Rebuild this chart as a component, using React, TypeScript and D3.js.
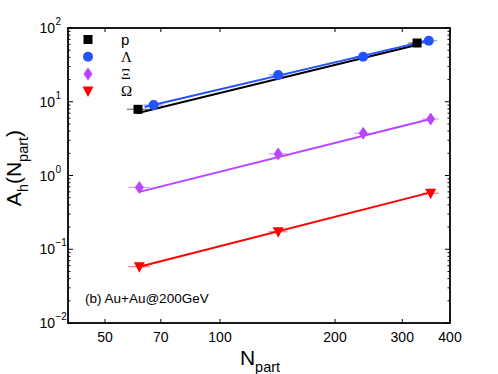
import React from "react";
import * as d3 from "d3";

const xTicks = [50, 70, 100, 200, 300, 400];
const yExps = [-2, -1, 0, 1, 2];

const pN = [61, 328];
const pV = [7.9, 62.6];
const pErr = [4, 18];

const lamN = [67, 142, 237, 352];
const lamV = [9.0, 23.1, 40.8, 67.3];
const lamErr = [4, 8, 12, 18];

const xiN = [61.5, 142, 237, 356];
const xiV = [0.69, 1.96, 3.73, 5.84];
const xiErr = [4, 8, 12, 18];

const omN = [61.5, 142, 356];
const omV = [0.058, 0.173, 0.573];
const omErr = [4, 8, 18];

const fitPN = [60.6, 331];
const fitPV = [7.0, 59.7];
const fitLamN = [63.5, 356];
const fitLamV = [8.5, 69];
const fitXiN = [61.5, 356];
const fitXiV = [0.6, 5.84];
const fitOmN = [61.5, 356];
const fitOmV = [0.058, 0.59];

const seriesNames = ["p", "Λ", "Ξ", "Ω"];
const colors = ["#000000", "#2352ff", "#bb44ff", "#ff0000"];
const shapes = ["square", "circle", "diamond", "triangle"];

const W = 498, H = 374;
const L = 68, R = 450, T = 28, B = 323;

const x = d3.scaleLog().domain([40, 400]).range([L, R]);
const y = d3.scaleLog().domain([1e-2, 1e2]).range([B, T]);

function Marker({ shape, cx, cy, color }: any) {
  if (shape === "square") return <rect x={cx - 4.5} y={cy - 4.5} width={9} height={9} fill={color} />;
  if (shape === "circle") return <circle cx={cx} cy={cy} r={5} fill={color} />;
  if (shape === "diamond")
    return <path d={`M${cx},${cy - 6.5}L${cx + 4.5},${cy}L${cx},${cy + 6.5}L${cx - 4.5},${cy}Z`} fill={color} />;
  return <path d={`M${cx - 5.5},${cy - 4.5}L${cx + 5.5},${cy - 4.5}L${cx},${cy + 6}Z`} fill={color} />;
}

export default function App() {
  const line = d3.line<[number, number]>().x((d) => x(d[0])).y((d) => y(d[1]));
  const data = [
    { n: pN, v: pV, e: pErr, fn: fitPN, fv: fitPV },
    { n: lamN, v: lamV, e: lamErr, fn: fitLamN, fv: fitLamV },
    { n: xiN, v: xiV, e: xiErr, fn: fitXiN, fv: fitXiV },
    { n: omN, v: omV, e: omErr, fn: fitOmN, fv: fitOmV },
  ];
  const minor: number[] = [];
  for (let e = -2; e < 2; e++) for (let k = 2; k <= 9; k++) minor.push(k * Math.pow(10, e));
  const sans = "Liberation Sans, Arial, sans-serif";
  const serif = "Liberation Serif, Times New Roman, serif";
  return (
    <svg width={W} height={H} style={{ position: "absolute", left: 0, top: 0, background: "#fff" }}>
      {/* fit lines */}
      {[0, 1, 2, 3].map((i) => (
        <path
          key={"f" + i}
          d={line(data[i].fn.map((n, j) => [n, data[i].fv[j]] as [number, number])) || ""}
          stroke={colors[i]}
          strokeWidth={2}
          fill="none"
        />
      ))}
      {/* error bars */}
      {data.map((s, i) =>
        s.n.map((n, j) => (
          <line
            key={"e" + i + "-" + j}
            x1={x(n - s.e[j])}
            x2={x(n + s.e[j])}
            y1={y(s.v[j])}
            y2={y(s.v[j])}
            stroke={colors[i]}
            strokeOpacity={0.5}
            strokeWidth={1.3}
          />
        ))
      )}
      {/* markers */}
      {data.map((s, i) =>
        s.n.map((n, j) => <Marker key={"m" + i + "-" + j} shape={shapes[i]} cx={x(n)} cy={y(s.v[j])} color={colors[i]} />)
      )}
      {/* frame */}
      <rect x={L} y={T} width={R - L} height={B - T} fill="none" stroke="#000" strokeWidth={1.8} />
      {/* x ticks */}
      {xTicks.map((t) => (
        <g key={"xt" + t}>
          <line x1={x(t)} x2={x(t)} y1={B} y2={B - 4} stroke="#000" strokeWidth={1} />
          <line x1={x(t)} x2={x(t)} y1={T} y2={T + 4} stroke="#000" strokeWidth={1} />
          <text x={x(t)} y={342} textAnchor="middle" fontFamily={sans} fontSize={14}>
            {t}
          </text>
        </g>
      ))}
      {/* y ticks */}
      {yExps.map((e) => {
        const v = Math.pow(10, e);
        return (
          <g key={"yt" + e}>
            <line x1={L} x2={L + 5} y1={y(v)} y2={y(v)} stroke="#000" strokeWidth={1} />
            <line x1={R} x2={R - 5} y1={y(v)} y2={y(v)} stroke="#000" strokeWidth={1} />
            <text x={55} y={y(v) + 5} textAnchor="end" fontFamily={sans} fontSize={14}>
              10
            </text>
            <text x={55.5} y={y(v) - 3} textAnchor="start" fontFamily={sans} fontSize={10}>
              {e < 0 ? "\u2212" + Math.abs(e) : e}
            </text>
          </g>
        );
      })}
      {minor.map((v, i) => (
        <g key={"mn" + i}>
          <line x1={L} x2={L + 2.5} y1={y(v)} y2={y(v)} stroke="#000" strokeWidth={1} />
          <line x1={R} x2={R - 2.5} y1={y(v)} y2={y(v)} stroke="#000" strokeWidth={1} />
        </g>
      ))}
      {/* legend */}
      {seriesNames.map((name, i) => (
        <g key={"lg" + i}>
          <Marker shape={shapes[i]} cx={88} cy={39.5 + i * 17.2} color={colors[i]} />
          <text
            x={121}
            y={44.5 + i * 17.2}
            fontFamily={i === 0 ? sans : serif}
            fontSize={15}
          >
            {name}
          </text>
        </g>
      ))}
      {/* annotation */}
      <text x={85} y={303} fontFamily={sans} fontSize={13.5}>
        (b) Au+Au@200GeV
      </text>
      {/* x title */}
      <text x={260} y={365} textAnchor="middle" fontFamily={sans} fontSize={21}>
        N<tspan fontSize={14.5} dy={7}>part</tspan>
      </text>
      {/* y title */}
      <text
        transform={`translate(21,${168}) rotate(-90)`}
        textAnchor="middle"
        fontFamily={sans}
        fontSize={21}
      >
        A<tspan fontSize={14.5} dy={7}>h</tspan>
        <tspan dy={-7}>(N</tspan>
        <tspan fontSize={14.5} dy={7}>part</tspan>
        <tspan dy={-7}>)</tspan>
      </text>
    </svg>
  );
}
